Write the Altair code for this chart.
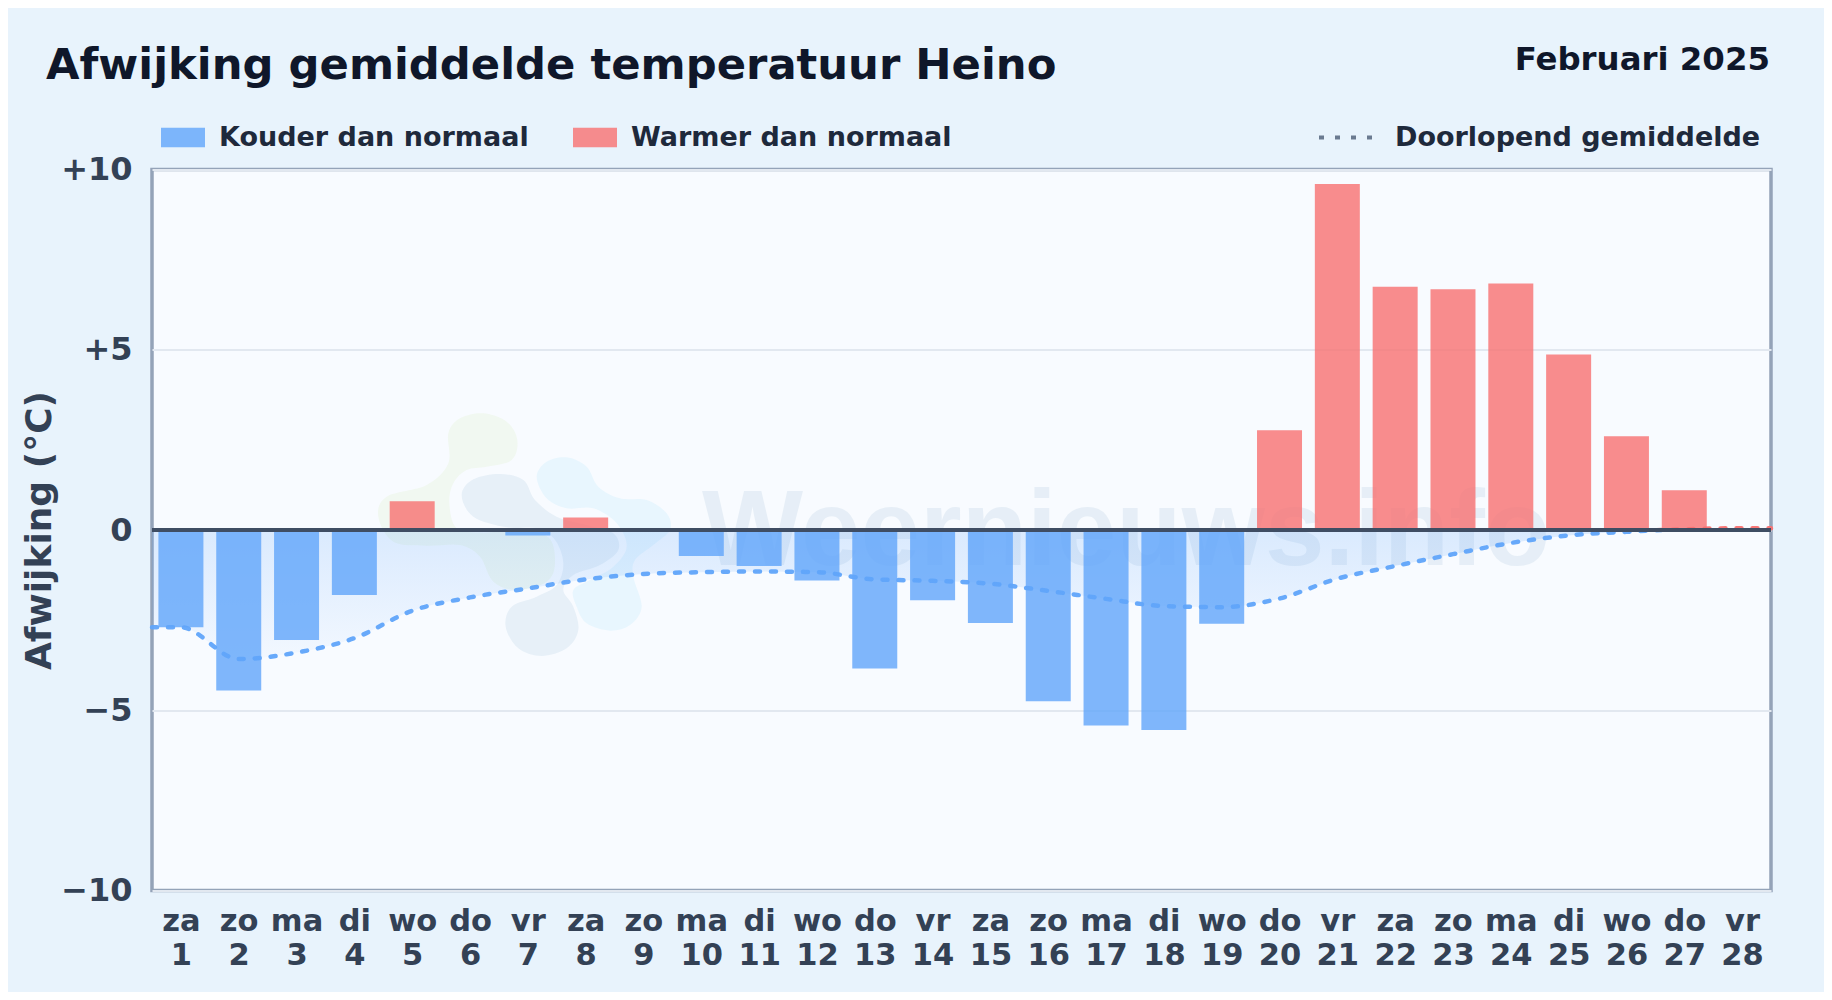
import altair as alt
import pandas as pd

FONT = "DejaVu Sans"
WEEKDAYS = ["za","zo","ma","di","wo","do","vr"] * 4
DAYS = list(range(1, 29))
DEVIATION = [-2.7,-4.45,-3.05,-1.8,0.8,0,-0.15,0.35,0,-0.72,-1.0,-1.4,-3.84,-1.95,
             -2.58,-4.75,-5.42,-5.55,-2.6,2.77,9.6,6.75,6.68,6.84,4.87,2.6,1.1,0.05]
LINE_DAYS = [0.5] + DAYS + [28.5]
RUNNING = [-2.7,-2.7,-3.58,-3.4,-3.0,-2.24,-1.87,-1.62,-1.37,-1.22,-1.17,-1.15,-1.17,-1.37,
           -1.41,-1.49,-1.69,-1.91,-2.11,-2.14,-1.9,-1.35,-1.0,-0.67,-0.36,-0.15,-0.05,0.02,0.05,0.05]
COLD, WARM = "Kouder dan normaal", "Warmer dan normaal"
AVG = "Doorlopend gemiddelde"

bars_df = pd.DataFrame({"day": DAYS, "dev": DEVIATION,
                        "kind": [COLD if v < 0 else WARM for v in DEVIATION]})
line_df = pd.DataFrame({"day": LINE_DAYS, "avg": RUNNING, "name": AVG})

GREEN = [(370,40),(440,65),(472,120),(455,180),(380,200),(320,210),(280,250),(268,310),(290,385),(370,398),
         (470,392),(565,412),(585,490),(560,545),(470,570),(400,545),(360,470),(300,435),(200,437),(100,425),
         (55,350),(80,290),(200,255),(265,190),(265,100),(300,55)]
GREY = [(305,285),(340,238),(420,222),(490,240),(525,300),(590,350),(680,375),(760,400),(775,450),(720,495),
        (640,525),(610,570),(640,620),(655,690),(620,745),(545,768),(475,745),(437,680),(455,620),(530,590),
        (590,555),(610,490),(585,420),(530,385),(440,382),(340,350)]
BLUE = [(530,230),(560,185),(620,172),(680,200),(715,260),(780,295),(860,300),(920,340),(930,390),(880,435),
        (825,480),(820,530),(845,620),(810,675),(750,692),(680,670),(650,620),(640,570),(690,540),(760,500),
        (800,440),(770,370),(700,325),(620,325),(560,295)]

def blob_path(pts, cx=495, cy=405, r=495):
    p = [((x-cx)/r, (y-cy)/r) for x, y in pts]
    n = len(p)
    d = f"M{p[0][0]:.4f},{p[0][1]:.4f}"
    for i in range(n):
        p0, p1, p2, p3 = p[i-1], p[i], p[(i+1) % n], p[(i+2) % n]
        c1 = (p1[0]+(p2[0]-p0[0])/6, p1[1]+(p2[1]-p0[1])/6)
        c2 = (p2[0]-(p3[0]-p1[0])/6, p2[1]-(p3[1]-p1[1])/6)
        d += f"C{c1[0]:.4f},{c1[1]:.4f},{c2[0]:.4f},{c2[1]:.4f},{p2[0]:.4f},{p2[1]:.4f}"
    return d + "Z"

one = pd.DataFrame({"t": ["Weernieuws.info"]})
def blob(pts, color, op):
    return alt.Chart(one).mark_point(shape=blob_path(pts), filled=True, size=330**2, fill=color,
                                     opacity=op, strokeWidth=0).encode(x=alt.value(373), y=alt.value(365.5))

watermark_text = alt.Chart(one).mark_text(font="Liberation Sans", fontWeight="bold", fontSize=107, align="left",
                                          baseline="alphabetic", color="#5b8fb9", opacity=0.11).encode(
    x=alt.value(550), y=alt.value(395.5), text="t:N")

x_scale = alt.Scale(domain=[0.5, 28.5], nice=False, zero=False, padding=0)
y_scale = alt.Scale(domain=[-10, 10], nice=False)

weekday_js = "[" + ",".join(f"'{d}'" for d in WEEKDAYS) + "]"
x_axis = alt.Axis(values=DAYS, title=None, grid=False, ticks=False, domain=False, labelFontSize=30.5, labelFont=FONT,
                  labelFontWeight="bold", labelColor="#334155", labelPadding=16, labelLineHeight=33.7, labelAngle=0,
                  labelFlush=False, labelOverlap=False, labelBaseline="top",
                  labelExpr=f"[{weekday_js}[datum.value-1], '' + datum.value]")
y_axis = alt.Axis(values=[-10,-5,0,5,10], title="Afwijking (°C)", grid=True, gridColor="#e2e8f0", gridWidth=2,
                  ticks=False, domain=False, labelFontSize=32, labelFont=FONT, labelFontWeight="bold",
                  labelColor="#334155", labelPadding=20, titleFont=FONT, titleFontSize=36, titleFontWeight="bold",
                  titleColor="#334155", titleX=-113, titleY=360.5, titleAngle=270, titleAlign="center",
                  titleBaseline="middle",
                  labelExpr="datum.value>0?'+'+datum.value:(datum.value<0?'−'+abs(datum.value):'0')")

area = alt.Chart(line_df).mark_area(
    interpolate="monotone",
    color=alt.Gradient(gradient="linear", x1=0, x2=0, y1=0, y2=1, stops=[
        alt.GradientStop(offset=0, color="rgba(96,165,250,0.2)"),
        alt.GradientStop(offset=1, color="rgba(96,165,250,0.04)")]),
).encode(x=alt.X("day:Q", scale=x_scale, axis=x_axis), y=alt.Y("avg:Q", scale=y_scale, axis=y_axis), y2=alt.datum(0))

bars = alt.Chart(bars_df).mark_bar(width=45, opacity=0.8).encode(
    x=alt.X("day:Q", scale=x_scale, axis=x_axis),
    y=alt.Y("dev:Q", scale=y_scale, axis=y_axis),
    y2=alt.datum(0),
    color=alt.Color("kind:N", scale=alt.Scale(domain=[COLD, WARM], range=["#60a5fa", "#f87171"]),
                    legend=alt.Legend(orient="none", legendX=9, legendY=-54, direction="horizontal", title=None,
                                      symbolType="M-1,-0.44H1V0.44H-1Z", symbolSize=1936, symbolOpacity=0.8,
                                      symbolStrokeWidth=0, labelFont=FONT, labelFontSize=27, labelFontWeight="bold",
                                      labelColor="#1e293b", labelOffset=14, columnPadding=44, columns=2, padding=0,
                                      labelLimit=600)),
)

line = alt.Chart(line_df).mark_line(
    interpolate="monotone", strokeWidth=4.5, strokeCap="round", opacity=0.95,
    color=alt.Gradient(gradient="linear", x1=0, x2=0, y1=0, y2=1, stops=[
        alt.GradientStop(offset=0, color="#f87171"),
        alt.GradientStop(offset=0.03, color="#f87171"),
        alt.GradientStop(offset=0.03, color="#60a5fa"),
        alt.GradientStop(offset=1, color="#60a5fa")]),
).encode(
    x=alt.X("day:Q", scale=x_scale, axis=x_axis),
    y=alt.Y("avg:Q", scale=y_scale, axis=y_axis),
    strokeDash=alt.StrokeDash("name:N", scale=alt.Scale(domain=[AVG], range=[[5, 11]]),
                              legend=alt.Legend(orient="none", legendX=1165, legendY=-62, title=None,
                                                symbolType="stroke", symbolSize=3136, symbolStrokeWidth=4,
                                                symbolStrokeColor="#64748b", symbolDashOffset=0,
                                                labelFont=FONT, labelFontSize=27, labelFontWeight="bold",
                                                labelColor="#1e293b", labelOffset=18, padding=0, labelLimit=600)),
)

zero = alt.Chart(pd.DataFrame({"z": [0]})).mark_rule(color="#3f4d63", strokeWidth=4).encode(
    y=alt.Y("z:Q", scale=y_scale, axis=y_axis))

date = alt.Chart(pd.DataFrame({"t": ["Februari 2025"]})).mark_text(
    font=FONT, fontSize=32.4, fontWeight="bold", color="#0f172a", align="right", baseline="alphabetic"
).encode(x=alt.value(1618), y=alt.value(-100), text="t:N")

title = alt.Chart(pd.DataFrame({"t": ["Afwijking gemiddelde temperatuur Heino"]})).mark_text(
    font=FONT, fontSize=43.3, fontWeight="bold", color="#0f172a", align="left", baseline="alphabetic"
).encode(x=alt.value(-106), y=alt.value(-91), text="t:N")

chart = alt.layer(
    blob(GREEN, "#84cc16", 0.06), blob(GREY, "#5b8fb9", 0.1), blob(BLUE, "#38bdf8", 0.08),
    watermark_text, area, bars, line, zero, date, title,
).resolve_legend(color="independent", strokeDash="independent").properties(
    width=1619, height=721,
    autosize=alt.AutoSizeParams(type="none"),
    padding={"left": 144, "top": 161.5, "right": 53, "bottom": 101},
    background="#e8f3fc",
).configure_view(fill="#f8fbff", stroke="#94a3b8", strokeWidth=3.5)

chart.save("out.html", embed_options={"renderer": "svg", "actions": False})
